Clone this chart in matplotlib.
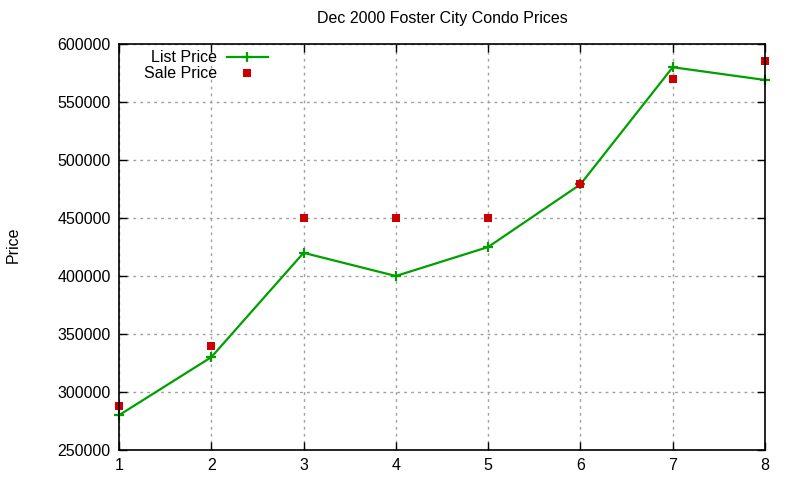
import numpy as np
import matplotlib.pyplot as plt

# data
months = [1, 2, 3, 4, 5, 6, 7, 8]
list_price = [280000, 330000, 420000, 400000, 425000, 479000, 580000, 569000]
sale_price = [288000, 340000, 450000, 450000, 450000, 479000, 570000, 585000]
yticks = [250000, 300000, 350000, 400000, 450000, 500000, 550000, 600000]

plt.rcParams['font.family'] = ['Liberation Sans', 'DejaVu Sans']
fs = 11.5

fig = plt.figure(figsize=(8, 4.8), dpi=100)
ax = fig.add_axes([0.14875, 0.0625, 0.8075, 0.8458])

l1, = ax.plot(months, list_price, '-', color='#00a000', lw=1.6,
              marker='+', ms=6.5, mew=1.6, label='List Price', clip_on=False)
l2, = ax.plot(months, sale_price, 's', color='#cc0000', ms=6, mew=0,
              label='Sale Price', clip_on=False)

ax.set_xlim(1, 8)
ax.set_ylim(250000, 600000)
ax.set_xticks(months)
ax.set_yticks(yticks)
ax.set_yticklabels([str(v) for v in yticks])
ax.tick_params(direction='in', length=6, width=1, top=True, right=True,
               labelsize=fs, pad=6, color='black')
ax.grid(True, color='#a0a0a0', ls=(0, (2, 3)), lw=1)
for s in ax.spines.values():
    s.set_linewidth(1.2)

ax.set_title('Dec 2000 Foster City Condo Prices', fontsize=fs, pad=15)
fig.text(0.016, 0.49, 'Price', rotation=90, fontsize=fs, va='center', ha='center')

leg1 = ax.legend(handles=[l1], loc='center right', bbox_to_anchor=(0.231, 0.966),
                 frameon=False, markerfirst=False, fontsize=fs, handlelength=2.6,
                 handletextpad=0.6, borderpad=0, borderaxespad=0)
ax.add_artist(leg1)
ax.legend(handles=[l2], loc='center right', bbox_to_anchor=(0.231, 0.927),
          frameon=False, markerfirst=False, fontsize=fs, handlelength=2.6,
          handletextpad=0.6, borderpad=0, borderaxespad=0)

plt.savefig('out.png', dpi=100)
